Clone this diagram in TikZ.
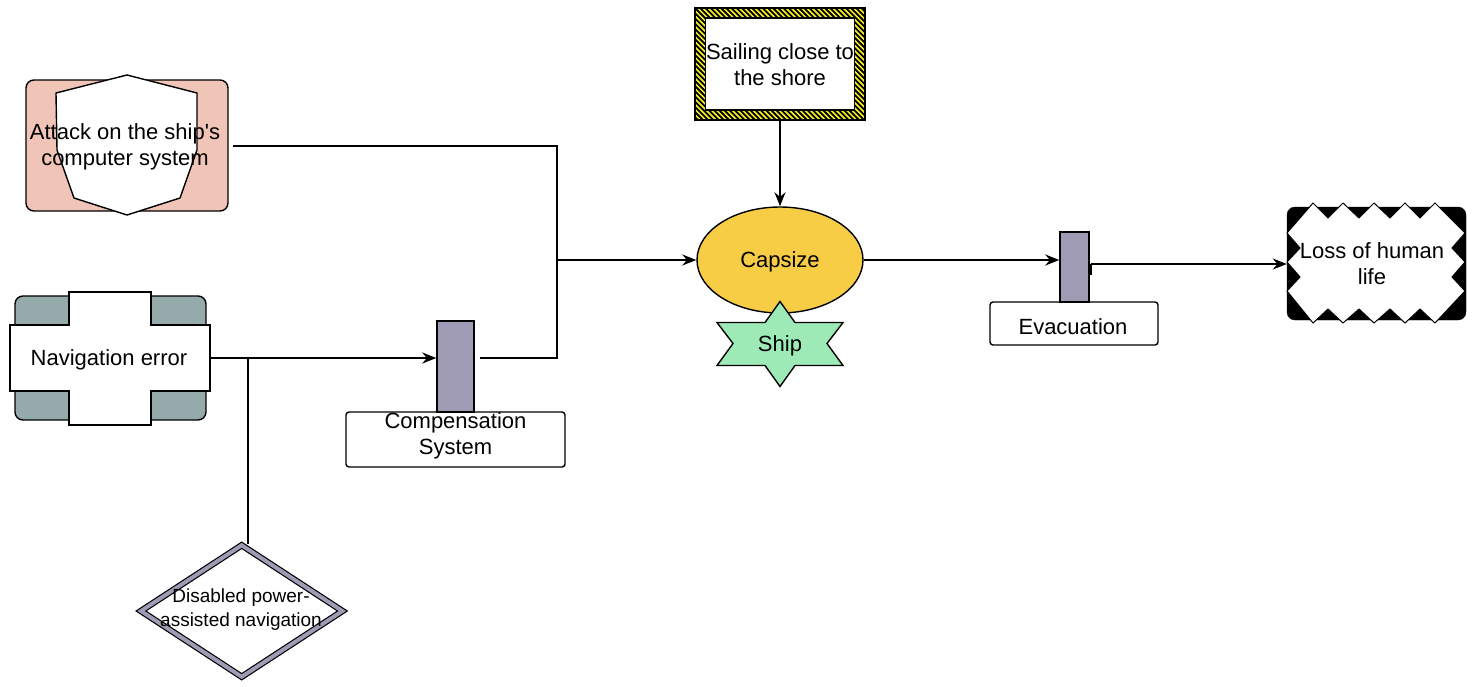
\documentclass[tikz,border=0pt]{standalone}
\usepackage{fontspec}
\setmainfont{Liberation Sans}
\usepackage{xcolor}
\usetikzlibrary{arrows.meta,shapes.geometric,positioning}

\definecolor{atkpink}{HTML}{F0C5B8}
\definecolor{navteal}{HTML}{95ABAB}
\definecolor{barblue}{HTML}{9F9BB5}
\definecolor{capyel}{HTML}{F7CD46}
\definecolor{shipgrn}{HTML}{9EEAB6}
\definecolor{hazyel}{HTML}{FAF21E}

\tikzset{
  lbl/.style={font=\fontsize{22}{26}\selectfont, align=center, inner sep=0pt},
  smalllbl/.style={font=\fontsize{19}{24}\selectfont, align=center, inner sep=0pt},
  ln/.style={line width=2pt},
  arr/.style={ln, -{Stealth[length=14pt,width=11pt]}},
  outl/.style={draw, line width=1.4pt},
  barbox/.style={outl, fill=barblue, inner sep=0pt},
  tagbox/.style={outl, fill=white, rounded corners=3pt, inner sep=0pt},
}

\begin{document}
\begin{tikzpicture}[x=1pt, y=-1pt]
    \useasboundingbox (0,0) rectangle (1478,686);

    % Attack on the computer system
    \node[outl, fill=atkpink, rounded corners=8pt, minimum width=202pt,
      minimum height=131pt] (atkbox) at (127,145.5) {};
    \draw[outl, fill=white] (127,75) -- (197,93) -- (197,150) -- (180,198)
      -- (127,215) -- (74,198) -- (57,150) -- (56,93) -- cycle;
    \node[lbl] (atk) at (125,147) {Attack on the ship\textquotesingle s\\computer system};

    % Navigation error
    \node[outl, fill=navteal, rounded corners=8pt, minimum width=191pt,
      minimum height=124pt] (navbox) at (110.5,358) {};
    \draw[outl, fill=white] (69,292) -- (151,292) -- (151,325) -- (210,325)
      -- (210,391) -- (151,391) -- (151,425) -- (69,425) -- (69,391)
      -- (10,391) -- (10,325) -- (69,325) -- cycle;
    \node[lbl, minimum width=200pt] (nav) at (109,360) {Navigation error};

    % Disabled power-assisted navigation
    \node[diamond, draw, line width=1.2pt, double=barblue, double distance=4pt,
      fill=white, inner sep=0pt, minimum width=202pt, minimum height=132pt]
      (dis) at (241.7,611) {};
    \node[smalllbl] (distxt) at (241,610) {Disabled power-\\assisted navigation};

    % Compensation system
    \node[tagbox, minimum width=219pt, minimum height=55pt] (compbox)
      at (455.5,439.5) {};
    \node[barbox, minimum width=37pt, minimum height=91pt] (cbar)
      at (455.5,366.5) {};
    \node[lbl] (comp) at (455.5,436) {Compensation\\System};

    % Sailing close to the shore (hazard frame)
    \node[outl, fill=hazyel, minimum width=170pt, minimum height=112pt,
      inner sep=0pt, path picture={
        \foreach \k in {-25,...,35}
          \draw[line width=1.8pt]
            ([xshift=\k*5.2pt]path picture bounding box.north west)
            -- ++(130pt,-130pt);
      }] (sailbox) at (780,64) {};
    \node[lbl, outl, fill=white, minimum width=149pt, minimum height=92pt]
      (sail) at (780,64) {};
    \node[lbl] (sailtxt) at (780,65) {Sailing close to\\the shore};

    % Capsize and ship
    \node[ellipse, outl, fill=capyel, minimum width=166pt,
      minimum height=106pt] (cap) at (780,260) {};
    \node[lbl] (captxt) at (780,262) {Capsize};
    \draw[outl, fill=shipgrn, shift={(780,343.5)}] (0,-42) -- (15,-21)
      -- (63,-21) -- (47,0) -- (63,22) -- (15,22) -- (0,43) -- (-15,22)
      -- (-63,22) -- (-47,0) -- (-63,-21) -- (-15,-21) -- cycle;
    \node[lbl] (ship) at (780,346) {Ship};

    % Evacuation
    \node[tagbox, minimum width=168pt, minimum height=43pt] (evacbox)
      at (1074,323.5) {};
    \node[barbox, minimum width=29pt, minimum height=70pt] (ebar)
      at (1074.5,267) {};
    \node[lbl] (evac) at (1073,327) {Evacuation};

    % Loss of human life
    \node[draw, fill=black, rounded corners=8pt, minimum width=179pt,
      minimum height=113pt] (lossbox) at (1376.5,263.5) {};
    \draw[line width=1pt, fill=white] (1287,233) -- (1313,203) -- (1328,218)
      -- (1343,203) -- (1359,218) -- (1374,203) -- (1390,218) -- (1405,203)
      -- (1420,218) -- (1435,203) -- (1465,233) -- (1452,248) -- (1465,262)
      -- (1452,277) -- (1465,291) -- (1435,323) -- (1420,309) -- (1405,323)
      -- (1390,309) -- (1374,323) -- (1359,309) -- (1343,323) -- (1328,309)
      -- (1313,323) -- (1287,291) -- (1300,277) -- (1287,262) -- (1300,248)
      -- cycle;
    \node[lbl] (loss) at (1372,264) {Loss of human\\life};

    % Connectors
    \coordinate (jn) at (557,260);
    \coordinate (nb) at (248,358);
    \coordinate (eo) at (1091,264);
    \draw[ln] ([xshift=4pt]atkbox.east) -| (jn);
    \draw[arr] (nav.east |- nb) -- (nb -| cbar.west);
    \draw[ln] (nb) -- (nb |- dis.north);
    \draw[ln] ([xshift=5pt]cbar.east |- nb) -| (jn);
    \draw[arr] (jn) -- (cap.west);
    \draw[arr] (sailbox.south) -- (cap.north);
    \draw[arr] (cap.east) -- (cap.east -| ebar.west);
    \draw[ln] ([yshift=-7pt]ebar.east) -| (eo);
    \draw[arr] (eo) -- (eo -| lossbox.west);
  \end{tikzpicture}
\end{document}
